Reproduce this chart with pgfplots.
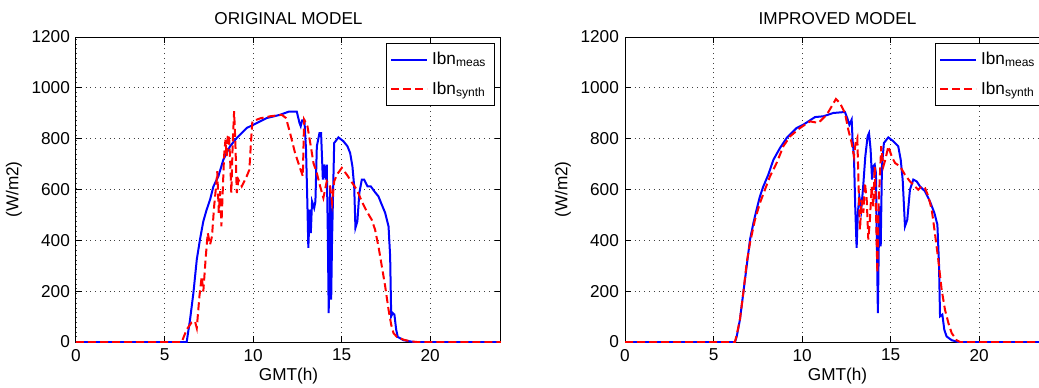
\documentclass[border=0pt]{standalone}
\usepackage{fontspec}
\setmainfont{Liberation Sans}
\usepackage{pgfplots}
\pgfplotsset{compat=1.18}
\begin{document}
\fontsize{8.6}{10}\selectfont
\begin{tikzpicture}
\useasboundingbox (0,0) rectangle (519.5pt,193.5pt);
\pgfplotsset{
 mystyle/.style={
  scale only axis, width=212.5pt, height=152.5pt,
  xmin=0, xmax=24, ymin=0, ymax=1200,
  xtick={0,5,10,15,20}, ytick={0,200,...,1200},
  grid=major, grid style={dotted, black!75, line width=0.45pt},
  tick align=inside, xtick pos=both, ytick pos=both,
  major tick length=3pt,
  tick style={black, line width=0.5pt},
  axis line style={black, line width=0.5pt},
  /pgf/number format/1000 sep={},
  /pgf/number format/assume math mode=true,
  tick label style={font=\fontsize{8.6}{10}\selectfont},
  xticklabel style={yshift=-0.5pt},
  xlabel={GMT(h)}, ylabel={(W/m2)},
  xlabel style={at={(axis description cs:0.5,0)}, anchor=center, yshift=-17pt, font=\fontsize{8.6}{10}\selectfont},
  ylabel style={at={(axis description cs:0,0.5)}, anchor=center, yshift=31pt, font=\fontsize{8.6}{10}\selectfont},
  every axis title shift=0pt,
  title style={at={(axis description cs:0.5,1)}, anchor=center, yshift=9.25pt, font=\fontsize{8.6}{10}\selectfont},
  legend style={at={(1,1)}, anchor=north east, xshift=-3pt, yshift=-3pt, draw=black, line width=0.5pt, font=\fontsize{8.6}{10}\selectfont, row sep=3pt, inner xsep=2pt, inner ysep=2.5pt},
  legend cell align=left,
  legend image code/.code={\draw[#1] (0pt,0pt) -- (18pt,0pt);},
  meas/.style={blue, line width=1pt},
  synth/.style={red, line width=1pt, dash pattern=on 4pt off 2pt},
 }
}
\begin{axis}[mystyle, at={(38pt,22.5pt)}, anchor=south west, title={ORIGINAL MODEL}]
\addplot[meas] coordinates {
(0,0) (6.25,0) (6.44,88) (6.63,193) (6.82,324) (7.0,403) (7.19,475) (7.38,521) (7.57,560) (7.76,612)
(8.04,652) (8.32,717) (8.7,770) (9.08,803) (9.64,842) (10.02,855) (10.77,881) (11.53,894) (12.0,906)
(12.47,906) (12.62,862) (12.69,849) (12.77,872) (12.9,872) (12.99,757) (13.07,534) (13.12,370)
(13.2,521) (13.26,429) (13.33,553) (13.45,527) (13.52,553) (13.6,770) (13.75,822) (13.84,822)
(13.94,639) (14.01,698) (14.1,639) (14.16,698) (14.22,429) (14.27,114) (14.35,612) (14.41,167)
(14.46,403) (14.58,783) (14.82,805) (15.1,790) (15.33,770) (15.48,744) (15.61,691) (15.71,612)
(15.78,449) (15.89,475) (16.0,586) (16.14,639) (16.27,639) (16.46,612) (16.65,612) (16.89,589)
(17.08,573) (17.27,540) (17.46,508) (17.65,455) (17.74,337) (17.8,101) (17.89,114) (17.98,108)
(18.08,49) (18.17,20) (18.5,7) (19.06,0) (24,0)
};
\addlegendentry{Ibn\textsubscript{meas}}
\addplot[synth] coordinates {
(0,0) (5.97,0) (6.25,49) (6.53,77) (6.72,81) (6.82,55) (6.97,180) (7.1,258) (7.19,199) (7.33,337)
(7.44,429) (7.57,383) (7.68,416) (7.8,534) (7.91,612) (7.98,672) (8.06,508) (8.14,593) (8.21,455)
(8.29,599) (8.36,730) (8.44,796) (8.51,730) (8.57,809) (8.64,816) (8.72,691) (8.77,586) (8.85,783)
(8.93,908) (9.0,783) (9.08,586) (9.17,639) (9.36,612) (9.64,652) (9.79,678) (9.89,796) (9.96,868)
(10.4,880) (10.96,888) (11.62,894) (11.86,881) (12.09,822) (12.37,744) (12.62,691) (12.81,652)
(12.88,875) (13.07,849) (13.26,770) (13.41,704) (13.6,665) (13.79,612) (13.97,567) (14.16,632)
(14.35,612) (14.46,547) (14.58,632) (14.73,658) (15.01,685) (15.3,658) (15.58,628) (15.86,599)
(16.14,553) (16.42,514) (16.7,481) (16.89,442) (17.08,376) (17.27,298) (17.46,219) (17.65,127)
(17.8,68) (17.93,35) (18.12,20) (18.5,9) (18.87,3) (19.25,0) (24,0)
};
\addlegendentry{Ibn\textsubscript{synth}}
\end{axis}
\begin{axis}[mystyle, at={(312.5pt,22.5pt)}, anchor=south west, title={IMPROVED MODEL}]
\addplot[meas] coordinates {
(0,0) (6.21,0) (6.31,22) (6.49,88) (6.68,193) (6.87,298) (7.06,403) (7.25,468) (7.43,521) (7.62,573)
(7.81,612) (8.09,658) (8.38,717) (8.75,763) (9.13,803) (9.69,842) (10.07,855) (10.73,885) (11.2,888)
(11.76,901) (12.42,905) (12.55,881) (12.67,855) (12.8,875) (12.85,796) (12.93,730) (13.0,534)
(13.08,370) (13.15,508) (13.23,573) (13.34,521) (13.45,612) (13.57,730) (13.7,809) (13.78,822)
(13.87,757) (13.95,639) (14.02,691) (14.1,698) (14.17,665) (14.23,363) (14.28,114) (14.36,534)
(14.44,376) (14.51,691) (14.62,783) (14.87,805) (15.15,790) (15.43,770) (15.57,717) (15.68,639)
(15.81,455) (15.94,481) (16.09,599) (16.28,639) (16.47,632) (16.66,612) (16.94,593) (17.22,553)
(17.47,508) (17.64,462) (17.73,311) (17.79,101) (17.92,108) (18.03,49) (18.16,22) (18.45,7)
(18.82,0) (24,0)
};
\addlegendentry{Ibn\textsubscript{meas}}
\addplot[synth] coordinates {
(0,0) (6.21,0) (6.31,29) (6.49,88) (6.68,193) (6.87,311) (7.06,390) (7.34,481) (7.62,547) (7.9,599)
(8.19,652) (8.56,704) (8.94,770) (9.32,809) (9.88,842) (10.45,868) (10.92,862) (11.39,894) (11.67,927)
(11.91,956) (12.14,940) (12.42,901) (12.61,835) (12.8,783) (12.93,730) (13.02,783) (13.12,803)
(13.19,612) (13.27,442) (13.36,560) (13.46,508) (13.55,626) (13.65,560) (13.74,403) (13.83,481)
(13.93,612) (14.02,534) (14.1,691) (14.17,534) (14.25,271) (14.32,534) (14.4,665) (14.47,770)
(14.59,691) (14.7,717) (14.87,770) (15.06,730) (15.25,704) (15.53,691) (15.81,658) (16.09,632)
(16.28,619) (16.56,599) (16.75,612) (16.94,606) (17.13,573) (17.32,521) (17.5,429) (17.69,324)
(17.88,206) (18.07,127) (18.26,75) (18.45,35) (18.73,7) (18.92,0) (24,0)
};
\addlegendentry{Ibn\textsubscript{synth}}
\end{axis}
\end{tikzpicture}
\end{document}
